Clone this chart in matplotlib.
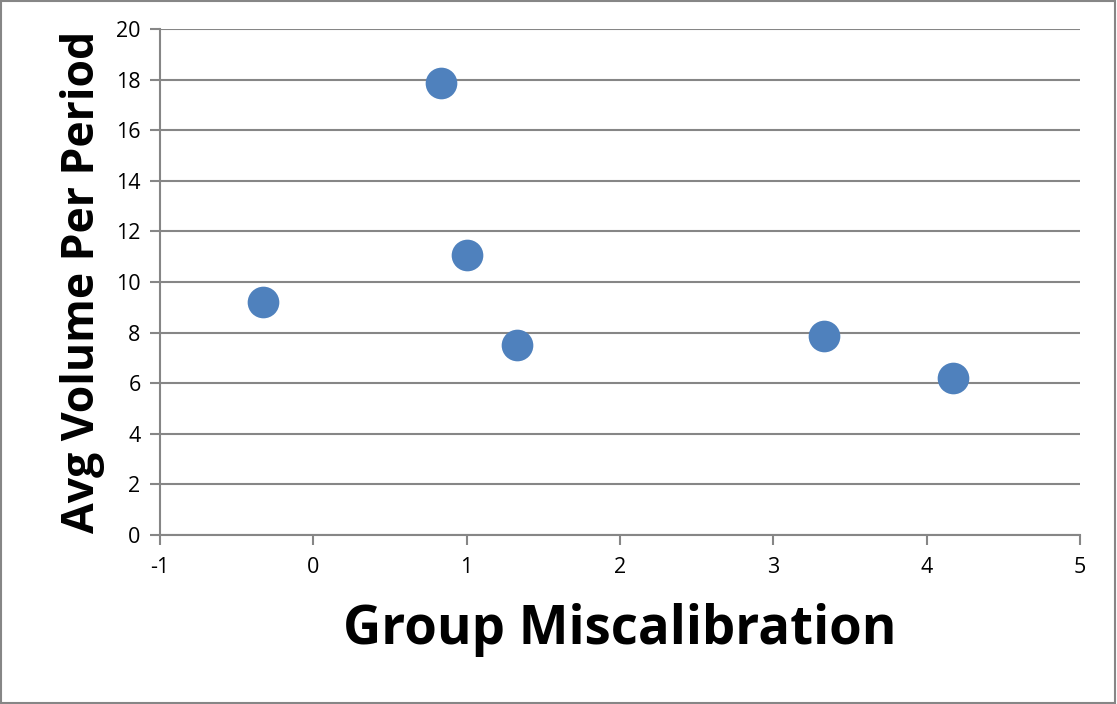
import matplotlib
matplotlib.use("Agg")
import matplotlib.pyplot as plt
from matplotlib.patches import Rectangle

# group miscalibration vs. average volume per period
miscalibration = [-0.33, 0.83, 1.0, 1.33, 3.33, 4.17]
avg_volume = [9.2, 17.85, 11.05, 7.5, 7.85, 6.22]

x_ticks = [-1, 0, 1, 2, 3, 4, 5]
y_ticks = [0, 2, 4, 6, 8, 10, 12, 14, 16, 18, 20]

plt.rcParams['font.family'] = ['Open Sans', 'DejaVu Sans']
plt.rcParams['axes.unicode_minus'] = False
grey = '#868686'

fig = plt.figure(figsize=(11.17, 7.04), dpi=100)
ax = fig.add_axes([0.1432, 0.2401, 0.8237, 0.7187])

ax.scatter(miscalibration, avg_volume, s=520, color='#4F81BD', zorder=3,
           linewidths=0)

ax.set_xlim(-1, 5)
ax.set_ylim(0, 20)
ax.set_xticks(x_ticks)
ax.set_yticks(y_ticks)
ax.yaxis.grid(True, color=grey, linewidth=1.5)
ax.set_axisbelow(True)

for side in ['top', 'right']:
    ax.spines[side].set_visible(False)
for side in ['left', 'bottom']:
    ax.spines[side].set_color(grey)
    ax.spines[side].set_linewidth(1.5)
ax.tick_params(colors=grey, width=1.5, length=7, labelsize=15.5,
               labelcolor='black')
ax.tick_params(axis='y', pad=7)
ax.tick_params(axis='x', pad=9)

ax.set_xlabel('Group Miscalibration', fontsize=38, fontweight='bold',
              labelpad=18)
ax.set_ylabel('Avg Volume Per Period', fontsize=32, fontweight='bold',
              labelpad=8)

# outer chart border
fig.patches.append(Rectangle((0.001, 0.002), 0.997, 0.996,
                             transform=fig.transFigure, fill=False,
                             edgecolor=grey, linewidth=1.5))

fig.savefig('out.png', dpi=100)
